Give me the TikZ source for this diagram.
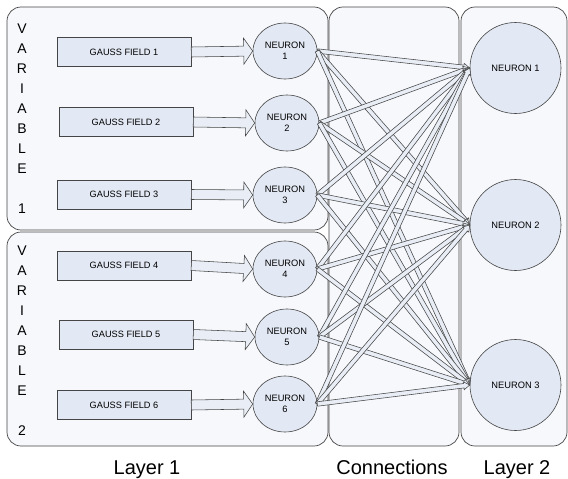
\documentclass[tikz,border=0pt]{standalone}
\usepackage{fontspec}
\setmainfont{Liberation Sans}
\usetikzlibrary{calc,shapes.geometric}
\definecolor{panelfill}{HTML}{F6F8FC}
\definecolor{nodefill}{HTML}{E3E9F4}
\definecolor{arrowfill}{HTML}{E9EEF6}
\definecolor{edgecol}{HTML}{454545}
\begin{document}
\begin{tikzpicture}[x=1pt,y=-1pt,
  panel/.style={draw=edgecol, fill=panelfill, line width=0.7pt, rounded corners=14pt},
  gauss/.style={draw=edgecol, fill=nodefill, line width=0.6pt, minimum width=134pt, minimum height=29pt, inner sep=0pt, font=\fontsize{9.2}{11}\selectfont},
  neuron/.style={ellipse, draw=edgecol, fill=nodefill, line width=0.6pt, minimum width=64pt, minimum height=56pt, inner sep=0pt, align=center, font=\fontsize{9.3}{11}\selectfont},
  bigneuron/.style={circle, draw=edgecol, fill=nodefill, line width=0.6pt, minimum size=91pt, inner sep=0pt, font=\fontsize{9.3}{11}\selectfont},
  varlabel/.style={align=center, inner sep=0pt, font=\fontsize{14}{20}\selectfont},
  bottomlabel/.style={anchor=base, inner sep=0pt, font=\fontsize{20}{24}\selectfont},
  blockarrow/.style n args={3}{draw=edgecol, fill=arrowfill, line width=0.55pt, line join=miter,
    to path={let \p1=(\tikztostart), \p2=(\tikztotarget),
      \n1={atan2(\y2-\y1,\x2-\x1)}, \n4={veclen(\x2-\x1,\y2-\y1)} in
      {[shift={(\p1)}, rotate=\n1]
      (0pt,#1) -- ({\n4*1pt-#3},#1) -- ({\n4*1pt-#3},#2) -- ({\n4*1pt},0pt)
      -- ({\n4*1pt-#3},-#2) -- ({\n4*1pt-#3},-#1) -- (0pt,-#1) -- cycle}}},
  fatarrow/.style={blockarrow={5pt}{13pt}{9pt}},
  linkarrow/.style={blockarrow={2.2pt}{4pt}{6pt}}
]
\useasboundingbox (0,0) rectangle (568,479);

% panels
\path[panel] (7,7) rectangle (328,230);
\path[panel] (7,232) rectangle (328,446);
\path[panel] (329,7) rectangle (459,446);
\path[panel] (461,7) rectangle (567,446);

% variable labels
\node[varlabel] (v1) at (22,119) {V\\A\\R\\I\\A\\B\\L\\E\\[20pt]1};
\node[varlabel] (v2) at (22,341) {V\\A\\R\\I\\A\\B\\L\\E\\[20pt]2};

% gauss fields
\node[gauss] (g1) at (124,52) {GAUSS FIELD 1};
\node[gauss] (g2) at (126,122) {GAUSS FIELD 2};
\node[gauss] (g3) at (124,194.5) {GAUSS FIELD 3};
\node[gauss] (g4) at (124,265.5) {GAUSS FIELD 4};
\node[gauss] (g5) at (126,334.5) {GAUSS FIELD 5};
\node[gauss] (g6) at (124,405) {GAUSS FIELD 6};

% layer 1 neurons
\node[neuron] (n1) at (285,51) {NEURON\\1};
\node[neuron] (n2) at (287,123) {NEURON\\2};
\node[neuron] (n3) at (285,195) {NEURON\\3};
\node[neuron] (n4) at (285,269) {NEURON\\4};
\node[neuron] (n5) at (287,337) {NEURON\\5};
\node[neuron] (n6) at (285,404) {NEURON\\6};

% layer 2 neurons
\node[bigneuron] (m1) at (515.5,68) {NEURON 1};
\node[bigneuron] (m2) at (515.5,225) {NEURON 2};
\node[bigneuron] (m3) at (515.5,385) {NEURON 3};

% gauss -> neuron arrows
\foreach \i in {1,...,6}{
  \draw[fatarrow] (g\i.east) to (n\i.west);
}

% connections
\foreach \i in {1,...,6}{
  \foreach \j in {1,2,3}{
    \draw[linkarrow] (n\i.east) to (m\j.west);
  }
}

% bottom labels
\node[bottomlabel] (l1) at (147,474) {Layer 1};
\node[bottomlabel] (l2) at (392,474) {Connections};
\node[bottomlabel] (l3) at (517,474) {Layer 2};
\end{tikzpicture}
\end{document}
